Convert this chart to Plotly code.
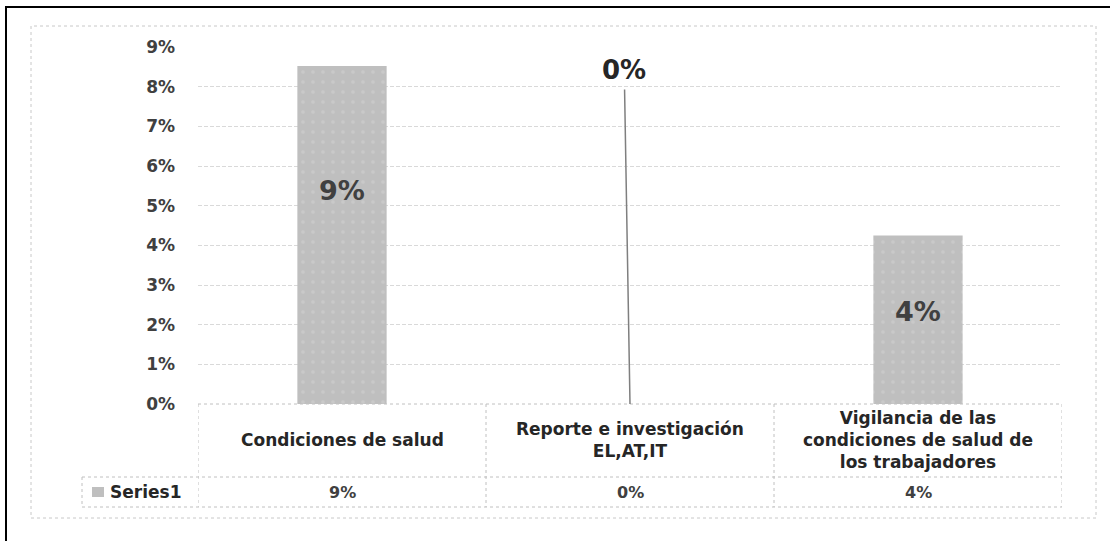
import plotly.graph_objects as go

# ---- data ----
categories = ["Condiciones de salud", "Reporte e investigación<br>EL,AT,IT",
              "Vigilancia de las<br>condiciones de salud de<br>los trabajadores"]
series_name = "Series1"
values = [0.0852, 0.0, 0.0425]
y_ticks = [0.00, 0.01, 0.02, 0.03, 0.04, 0.05, 0.06, 0.07, 0.08, 0.09]

# ---- layout geometry (pixels) ----
W_FIG, H_FIG = 1110, 541
L, R, T, B = 198, 1062, 47, 404
PW, PH = R - L, B - T


def px_x(x):
    return (x - L) / PW


def px_y(y):
    return (B - y) / PH


TXT = "#404040"
FONT = "DejaVu Sans"
GRID = "#d9d9d9"
TBL = "#c0c0c0"

xs = list(range(len(categories)))
labels = [f"{round(v * 100):.0f}%" for v in values]

fig = go.Figure()
fig.add_trace(go.Bar(
    x=xs, y=values, width=0.31, name=series_name,
    marker=dict(color="#bfbfbf", line=dict(width=0),
                pattern=dict(shape=".", fgcolor="#d4d4d4", size=10, solidity=0.1)),
    hoverinfo="skip", showlegend=False,
))

annotations = []
shapes = []

# data labels
label_shift = {0: 45, 2: 8}
for i, v in enumerate(values):
    if v > 0:
        annotations.append(dict(
            x=xs[i], y=v / 2, xref="x", yref="y", text=labels[i], showarrow=False,
            yshift=label_shift.get(i, 0),
            font=dict(family=FONT, size=27, color=TXT, weight="bold")))
    else:
        annotations.append(dict(
            x=xs[i], y=v, xref="x", yref="y", ax=xs[i] - 0.02, ay=0.0842,
            axref="x", ayref="y", text=labels[i], showarrow=True,
            arrowhead=0, arrowwidth=1.5, arrowcolor="#7f7f7f", borderpad=4,
            font=dict(family=FONT, size=26, color="#262626", weight="bold")))

# data table
y_top, y_mid, y_bot = px_y(404), px_y(477), px_y(507)
x_start = px_x(82)
line_style = dict(color=TBL, width=1, dash="dot")
shapes.append(dict(type="line", xref="x", yref="paper", x0=-0.5, x1=len(xs) - 0.5,
                   y0=y_top, y1=y_top, line=line_style))
for yy in (y_mid, y_bot):
    shapes.append(dict(type="line", xref="paper", yref="paper", x0=x_start, x1=1,
                       y0=yy, y1=yy, line=line_style))
shapes.append(dict(type="line", xref="paper", yref="paper", x0=x_start, x1=x_start,
                   y0=y_mid, y1=y_bot, line=line_style))
for k in range(len(xs) + 1):
    shapes.append(dict(type="line", xref="x", yref="paper", x0=k - 0.5, x1=k - 0.5,
                       y0=y_top, y1=y_bot, line=line_style))

for i, c in enumerate(categories):
    annotations.append(dict(x=xs[i], y=px_y(440), xref="x", yref="paper", text=c,
                            showarrow=False, yanchor="middle",
                            font=dict(family=FONT, size=17, color="#262626", weight="bold")))
    annotations.append(dict(x=xs[i], y=px_y(492), xref="x", yref="paper", text=labels[i],
                            showarrow=False, yanchor="middle",
                            font=dict(family=FONT, size=16, color=TXT, weight="bold")))

# legend key in table
shapes.append(dict(type="rect", xref="paper", yref="paper", x0=px_x(92), x1=px_x(104),
                   y0=px_y(497), y1=px_y(487), fillcolor="#bfbfbf", line=dict(width=0)))
annotations.append(dict(x=px_x(108), y=px_y(492), xref="paper", yref="paper",
                        text=series_name, showarrow=False, xanchor="left", yanchor="middle",
                        font=dict(family=FONT, size=17, color="#262626", weight="bold")))

# chart frame and outer border
shapes.append(dict(type="rect", xref="paper", yref="paper", x0=px_x(31), x1=px_x(1096),
                   y0=px_y(518), y1=px_y(26), line=dict(color="#c8c8c8", width=1, dash="dot"),
                   layer="below"))
shapes.append(dict(type="rect", xref="paper", yref="paper", x0=px_x(6), x1=px_x(1130),
                   y0=px_y(570), y1=px_y(7), line=dict(color="#000000", width=2)))

fig.update_layout(
    width=W_FIG, height=H_FIG,
    margin=dict(l=L, r=W_FIG - R, t=T, b=H_FIG - B, pad=0),
    paper_bgcolor="white", plot_bgcolor="white",
    showlegend=False,
    xaxis=dict(range=[-0.5, len(xs) - 0.5], visible=False, fixedrange=True),
    yaxis=dict(range=[0, 0.09], tickvals=y_ticks, tickformat=".0%",
               showgrid=True, gridcolor=GRID, griddash="4px,2px", gridwidth=1,
               zeroline=False, showline=False, ticks="", ticklabelstandoff=22,
               tickfont=dict(family=FONT, size=17, color=TXT, weight="bold"),
               fixedrange=True),
    annotations=annotations,
    shapes=shapes,
)

fig.write_html("out.html", config={"displayModeBar": False},
               post_script="document.body.style.margin='0px';document.body.style.overflow='hidden';")
